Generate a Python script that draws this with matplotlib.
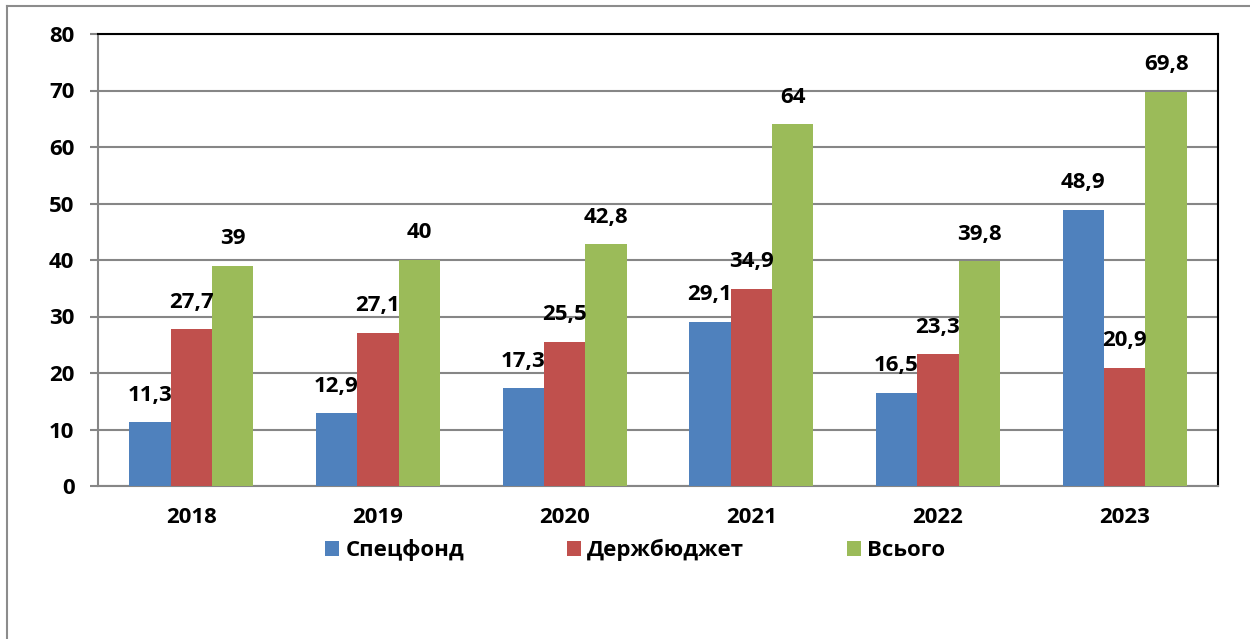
import matplotlib
matplotlib.use("Agg")
import matplotlib.pyplot as plt
import numpy as np
from matplotlib.lines import Line2D

plt.rcParams['font.family'] = ['Open Sans', 'DejaVu Sans']
plt.rcParams['font.weight'] = 'bold'

years = ["2018", "2019", "2020", "2021", "2022", "2023"]
series_names = ["Спецфонд", "Держбюджет", "Всього"]
spetsfond = [11.3, 12.9, 17.3, 29.1, 16.5, 48.9]
derzhbudzhet = [27.7, 27.1, 25.5, 34.9, 23.3, 20.9]
vsogo = [39, 40, 42.8, 64, 39.8, 69.8]
colors = ["#4F81BD", "#C0504D", "#9BBB59"]


def fmt(v):
    if float(v).is_integer():
        return str(int(v))
    return ("%.1f" % v).replace(".", ",")


fig = plt.figure(figsize=(12.5, 6.39), dpi=100)
ax = fig.add_axes([98 / 1250, 1 - 486 / 639, 1120 / 1250, 452 / 639])

x = np.arange(len(years))
w = 0.222
for k, (vals, name) in enumerate(zip([spetsfond, derzhbudzhet, vsogo], series_names)):
    pos = x + (k - 1) * w
    ax.bar(pos, vals, width=w, color=colors[k], label=name, zorder=3)
    for p, v in zip(pos, vals):
        ax.annotate(fmt(v), (p, v), xytext=(0, 19.5), textcoords="offset points",
                    ha="center", va="center", fontsize=16, fontweight="bold", zorder=5)

ax.set_xlim(-0.5, len(years) - 0.5)
ax.set_ylim(0, 80)
ax.set_yticks(range(0, 81, 10))
ax.set_xticks(x)
ax.set_xticklabels(years)
ax.grid(axis="y", color="#868686", linewidth=1.5, zorder=0)
ax.tick_params(axis="y", length=6, width=1.5, color="#868686", labelsize=16, pad=11)
ax.tick_params(axis="x", length=0, labelsize=16, pad=15)
for lab in ax.get_xticklabels() + ax.get_yticklabels():
    lab.set_fontweight("bold")

ax.spines["left"].set_color("#868686")
ax.spines["bottom"].set_color("#868686")
ax.spines["left"].set_linewidth(1.5)
ax.spines["bottom"].set_linewidth(1.5)
ax.spines["top"].set_color("black")
ax.spines["right"].set_color("black")
ax.spines["top"].set_linewidth(1.5)
ax.spines["right"].set_linewidth(1.5)

leg = fig.legend(loc="center left", bbox_to_anchor=(325 / 1250, 1 - 550 / 639), ncol=3,
                 frameon=False, fontsize=16, handlelength=0.63, handleheight=0.63,
                 handletextpad=0.3, columnspacing=4.6, borderaxespad=0, borderpad=0)
for t in leg.get_texts():
    t.set_fontweight("bold")

# outer chart border (only top and left edges visible)
fig.add_artist(Line2D([7 / 1250, 7 / 1250], [0, 1 - 6 / 639], transform=fig.transFigure,
                      color="#8c8c8c", linewidth=1.5))
fig.add_artist(Line2D([7 / 1250, 1], [1 - 6 / 639, 1 - 6 / 639], transform=fig.transFigure,
                      color="#8c8c8c", linewidth=1.5))

fig.savefig("out.png", dpi=100, facecolor="white")
